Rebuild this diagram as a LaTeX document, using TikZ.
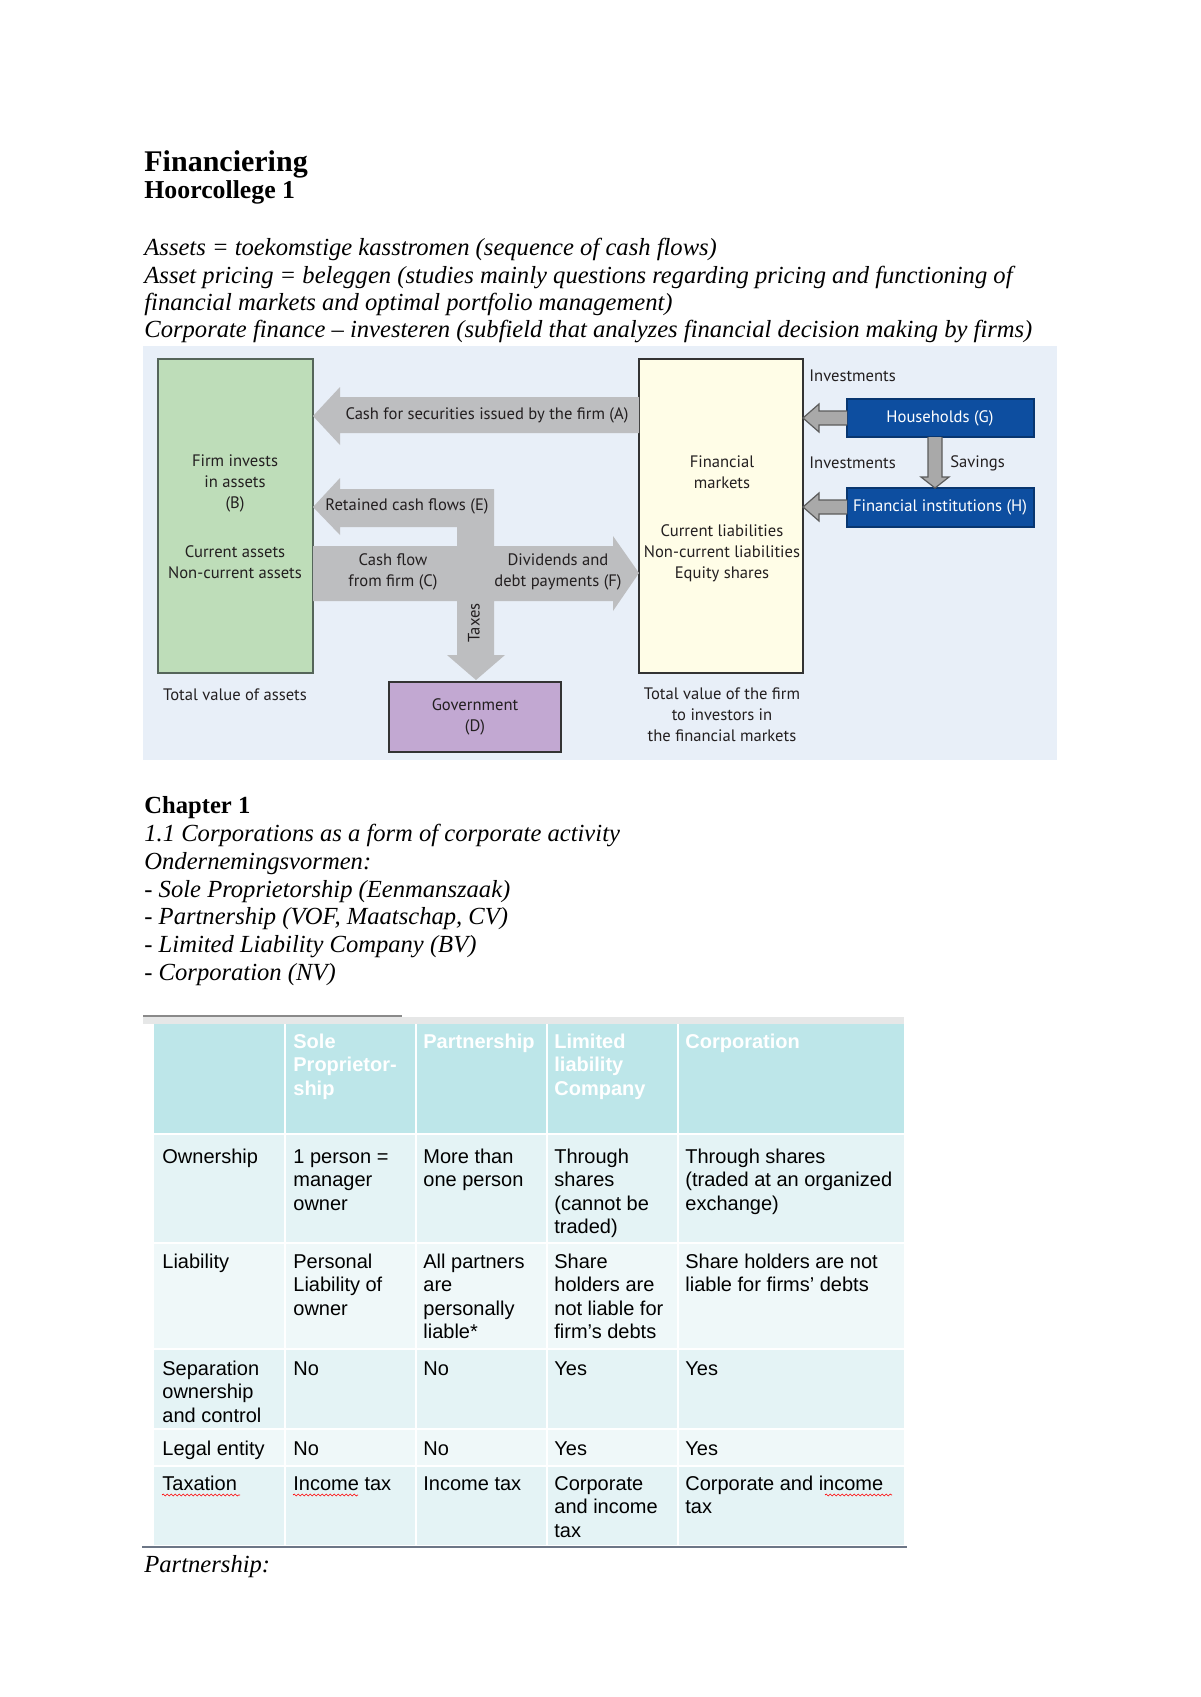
\documentclass[tikz,border=0pt]{standalone}
\usepackage{fontspec}
\setmainfont{Liberation Serif}
\newfontfamily\diagfont{PT Sans}
\newfontfamily\tabfont{Liberation Sans}
\usetikzlibrary{decorations.pathmorphing}
\definecolor{bgblue}{HTML}{E8EFF8}
\definecolor{boxgreen}{HTML}{BEDDB9}
\definecolor{greenline}{HTML}{55655A}
\definecolor{boxyellow}{HTML}{FFFDE7}
\definecolor{boxpurple}{HTML}{C2A8D2}
\definecolor{navy}{HTML}{0D4EA0}
\definecolor{navyline}{HTML}{083670}
\definecolor{flowgray}{HTML}{BDBEC0}
\definecolor{smallgray}{HTML}{A9A9A9}
\definecolor{darkline}{HTML}{333333}
\definecolor{diagtext}{HTML}{231F20}
\definecolor{teal}{HTML}{BDE6E9}
\definecolor{rowa}{HTML}{E4F3F5}
\definecolor{rowb}{HTML}{EFF8F9}
\definecolor{topline}{HTML}{8A8A8A}
\definecolor{lightband}{HTML}{E6E7E7}
\definecolor{bottomline}{HTML}{6C7686}
\newcommand\tcell[1]{\begin{tabular}[t]{@{}l@{}}#1\end{tabular}}
\begin{document}
\begin{tikzpicture}[x=0.5pt,y=-0.5pt,
  body/.style={anchor=base west,inner sep=0,font=\fontsize{12.3}{14}\selectfont\itshape},
  head/.style={anchor=base west,inner sep=0,font=\bfseries\fontsize{12.5}{14}\selectfont},
  dg/.style={inner sep=0,align=center,text=diagtext,font=\diagfont\fontsize{8.3}{10.5}\selectfont},
  dgw/.style={dg,text=white},
  tb/.style={anchor=base west,inner sep=0,font=\tabfont\fontsize{10}{11.75}\selectfont},
  th/.style={anchor=base west,inner sep=0,text=white,font=\tabfont\bfseries\fontsize{10}{11.75}\selectfont},
  smallarrow/.style={fill=smallgray,draw=darkline!80,line width=0.6pt,line join=miter},
  spell/.style={draw=red,line width=0.3pt,decorate,decoration={snake,amplitude=0.5pt,segment length=2pt}}]
\useasboundingbox (0,0) rectangle (1200,1697);
\fill[white] (0,0) rectangle (1200,1697);

% ---------- text above ----------
\node[head,font=\bfseries\fontsize{15}{17}\selectfont] (title) at (144,171) {Financiering};
\node[head,font=\bfseries\fontsize{12.9}{15}\selectfont] (sub) at (144,198) {Hoorcollege 1};
\node[body] (l1) at (144,255) {Assets = toekomstige kasstromen (sequence of cash flows)};
\node[body] (l2) at (144,283) {Asset pricing = beleggen (studies mainly questions regarding pricing and functioning of};
\node[body] (l3) at (144,310) {financial markets and optimal portfolio management)};
\node[body] (l4) at (144,337) {Corporate finance – investeren (subfield that analyzes financial decision making by firms)};

% ---------- diagram ----------
\fill[bgblue] (143,346) rectangle (1057,760);
\node[draw=greenline,fill=boxgreen,line width=0.8pt,minimum width=155*0.5pt,minimum height=314*0.5pt,inner sep=0] (firm) at (235.5,516) {};
\node[draw=darkline,fill=boxyellow,line width=0.8pt,minimum width=164*0.5pt,minimum height=314*0.5pt,inner sep=0] (fm) at (721,516) {};
\node[draw=darkline,fill=boxpurple,line width=0.8pt,minimum width=172*0.5pt,minimum height=70*0.5pt,inner sep=0] (gov) at (475,717) {};
\node[draw=navyline,fill=navy,line width=0.8pt,minimum width=187*0.5pt,minimum height=38*0.5pt,inner sep=0] (hh) at (940.5,418) {};
\node[draw=navyline,fill=navy,line width=0.8pt,minimum width=187*0.5pt,minimum height=39*0.5pt,inner sep=0] (fi) at (940.5,507.5) {};

% arrow A
\fill[flowgray] (639,397) -- (340,397) -- (340,387) -- (313,416) -- (340,445) -- (340,433) -- (639,433) -- cycle;
% arrows E, C/F, taxes
\fill[flowgray] (313,507) -- (340,478) -- (340,489) -- (494,489) -- (494,546) -- (613,546) -- (613,536)
  -- (639,573) -- (613,611) -- (613,601) -- (494,601) -- (494,655) -- (505,655) -- (476,680)
  -- (447,655) -- (457,655) -- (457,601) -- (313,601) -- (313,546) -- (457,546) -- (457,527)
  -- (340,527) -- (340,535) -- cycle;
% small arrows
\draw[smallarrow] (847,411) -- (819,411) -- (819,404) -- (803,418) -- (819,432) -- (819,425) -- (847,425);
\draw[smallarrow] (847,500) -- (819,500) -- (819,493) -- (803,507) -- (819,521) -- (819,514) -- (847,514);
\draw[smallarrow] (928,437) -- (928,477) -- (921,477) -- (935,488) -- (949,477) -- (942,477) -- (942,437);

% diagram labels
\node[dg] (ta) at (487,415) {Cash for securities issued by the firm (A)};
\node[dg] (te) at (407,506) {Retained cash flows (E)};
\node[dg] (tc) at (393,572) {Cash flow\\from firm (C)};
\node[dg] (tf) at (558,572) {Dividends and\\debt payments (F)};
\node[dg,rotate=90] (tt) at (474,623) {Taxes};
\node[dg] (tb1) at (235,483) {Firm invests\\in assets\\(B)};
\node[dg] (tb2) at (235,562) {Current assets\\Non-current assets};
\node[dg] (tb3) at (235,695) {Total value of assets};
\node[dg] (td) at (475,717) {Government\\(D)};
\node[dg] (tm1) at (722,472) {Financial\\markets};
\node[dg] (tm2) at (722,553) {Current liabilities\\Non-current liabilities\\Equity shares};
\node[dg] (tm3) at (722,715) {Total value of the firm\\to investors in\\the financial markets};
\node[dg,anchor=west] (inv1) at (809,376) {Investments};
\node[dg,anchor=west] (inv2) at (809,463) {Investments};
\node[dg,anchor=west] (sav) at (950,463) {Savings};
\node[dgw] (thh) at (940,418) {Households (G)};
\node[dgw] (tfi) at (940,507) {Financial institutions (H)};

% ---------- chapter text ----------
\node[head,font=\bfseries\fontsize{12.3}{14}\selectfont] (ch) at (144,813) {Chapter 1};
\node[body] (c1) at (144,841) {1.1 Corporations as a form of corporate activity};
\node[body] (c2) at (144,869) {Ondernemingsvormen:};
\node[body] (c3) at (144,897) {- Sole Proprietorship (Eenmanszaak)};
\node[body] (c4) at (144,924) {- Partnership (VOF, Maatschap, CV)};
\node[body] (c5) at (144,952) {- Limited Liability Company (BV)};
\node[body] (c6) at (144,980) {- Corporation (NV)};

% ---------- table ----------
\fill[lightband] (143,1017) rectangle (904,1024);
\draw[topline,line width=0.7pt] (143,1016) -- (402,1016);
\fill[teal] (154,1024) rectangle (904,1133);
\fill[rowa] (154,1135) rectangle (904,1242);
\fill[rowb] (154,1244) rectangle (904,1348);
\fill[rowa] (154,1350) rectangle (904,1428);
\fill[rowb] (154,1430) rectangle (904,1465);
\fill[rowa] (154,1467) rectangle (904,1545);
\foreach \cx in {285,416,547,678} \draw[white,line width=1pt] (\cx,1024) -- (\cx,1545);
\draw[bottomline,line width=0.8pt] (142,1547) -- (907,1547);

\node[th] (h2) at (293,1048) {\tcell{Sole\\Proprietor-\\ship}};
\node[th] (h3) at (423,1048) {\tcell{Partnership}};
\node[th] (h4) at (554,1048) {\tcell{Limited\\liability\\Company}};
\node[th] (h5) at (685,1048) {\tcell{Corporation}};

\node[tb] (r1c1) at (162,1163) {\tcell{Ownership}};
\node[tb] (r1c2) at (293,1163) {\tcell{1 person =\\manager\\owner}};
\node[tb] (r1c3) at (423,1163) {\tcell{More than\\one person}};
\node[tb] (r1c4) at (554,1163) {\tcell{Through\\shares\\(cannot be\\traded)}};
\node[tb] (r1c5) at (685,1163) {\tcell{Through shares\\(traded at an organized\\exchange)}};

\node[tb] (r2c1) at (162,1268) {\tcell{Liability}};
\node[tb] (r2c2) at (293,1268) {\tcell{Personal\\Liability of\\owner}};
\node[tb] (r2c3) at (423,1268) {\tcell{All partners\\are\\personally\\liable*}};
\node[tb] (r2c4) at (554,1268) {\tcell{Share\\holders are\\not liable for\\firm’s debts}};
\node[tb] (r2c5) at (685,1268) {\tcell{Share holders are not\\liable for firms’ debts}};

\node[tb] (r3c1) at (162,1375) {\tcell{Separation\\ownership\\and control}};
\node[tb] (r3c2) at (293,1375) {No};
\node[tb] (r3c3) at (423,1375) {No};
\node[tb] (r3c4) at (554,1375) {Yes};
\node[tb] (r3c5) at (685,1375) {Yes};

\node[tb] (r4c1) at (162,1455) {Legal entity};
\node[tb] (r4c2) at (293,1455) {No};
\node[tb] (r4c3) at (423,1455) {No};
\node[tb] (r4c4) at (554,1455) {Yes};
\node[tb] (r4c5) at (685,1455) {Yes};

\node[tb] (r5c1) at (162,1490) {\tcell{Taxation}};
\node[tb] (r5c2) at (293,1490) {\tcell{Income tax}};
\node[tb] (r5c3) at (423,1490) {\tcell{Income tax}};
\node[tb] (r5c4) at (554,1490) {\tcell{Corporate\\and income\\tax}};
\node[tb] (r5c5) at (685,1490) {\tcell{Corporate and income\\tax}};
\path[spell] (162,1495) -- (240,1495);
\path[spell] (293,1495) -- (358,1495);
\path[spell] (825,1495) -- (892,1495);

\node[body] (pt) at (144,1572) {Partnership:};
\end{tikzpicture}
\end{document}
